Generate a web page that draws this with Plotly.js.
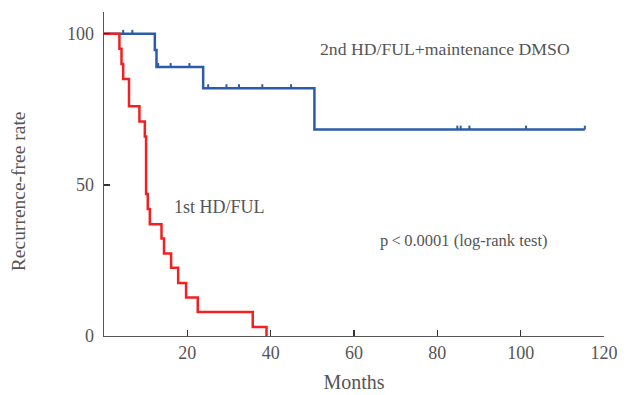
<!DOCTYPE html>
<html>
<head>
<meta charset="utf-8">
<script src="https://cdn.plot.ly/plotly-3.0.1.min.js"></script>
<style>html,body{margin:0;padding:0;background:#fff;}#chart{width:631px;height:395px;}</style>
</head>
<body>
<div id="chart"></div>
<script>
// Kaplan-Meier step data
const firstTimes  = [0, 3.7, 4.2, 4.6, 6.0, 8.5, 9.8, 10.1, 10.5, 11.0, 13.8, 14.4, 16.1, 17.8, 19.7, 22.5, 35.7, 39.0];
const firstValues = [100, 95, 90, 85, 76, 71, 66, 47, 42, 37, 32.3, 27.3, 22.6, 17.5, 12.7, 7.9, 3, 0];

const secondTimes  = [0, 12.2, 12.6, 23.8, 50.5, 115.4];
const secondValues = [100, 94.6, 89, 82, 68.3, 68.3];

const secondCensorTimes  = [4.6, 6.8, 13.0, 16.0, 20.5, 25.0, 29.4, 32.4, 38.0, 44.9, 84.8, 85.6, 87.7, 101.3, 115.4];
const secondCensorValues = [100, 100, 89, 89, 89, 82, 82, 82, 82, 82, 68.3, 68.3, 68.3, 68.3, 68.3];

const xTicks = [20, 40, 60, 80, 100, 120];
const yTicks = [0, 50, 100];

const labelFirst  = "1st HD/FUL";
const labelSecond = "2nd HD/FUL+maintenance DMSO";
const labelP      = "p\u2009<\u20090.0001 (log-rank test)";
const xTitle = "Months";
const yTitle = "Recurrence-free rate";

const BLUE = "#2c5ca9";
const RED  = "#f22020";
const GREY = "#555555";
const FONT = "Liberation Serif, DejaVu Serif, serif";

const traces = [
  {x: secondTimes, y: secondValues, type: "scatter", mode: "lines",
   line: {shape: "hv", color: BLUE, width: 2.5}, hoverinfo: "skip", showlegend: false},
  {x: secondCensorTimes, y: secondCensorValues, type: "scatter", mode: "markers",
   marker: {size: 0.1, color: BLUE, opacity: 0},
   error_y: {type: "data", symmetric: false, array: secondCensorValues.map(() => 1.3),
             arrayminus: secondCensorValues.map(() => 0), width: 0, thickness: 2, color: BLUE},
   hoverinfo: "skip", showlegend: false},
  {x: firstTimes, y: firstValues, type: "scatter", mode: "lines",
   line: {shape: "hv", color: RED, width: 2.5}, hoverinfo: "skip", showlegend: false}
];

const layout = {
  width: 631, height: 395,
  margin: {l: 104, r: 27, t: 12, b: 59},
  paper_bgcolor: "#fff", plot_bgcolor: "#fff",
  font: {family: FONT, color: GREY, size: 18},
  showlegend: false,
  xaxis: {
    range: [0, 120], tickvals: xTicks, ticktext: xTicks.map(String),
    ticks: "inside", ticklen: 6, tickwidth: 1.3, tickcolor: "#333",
    showline: true, linecolor: "#555", linewidth: 1.3,
    showgrid: false, zeroline: false, fixedrange: true,
    tickfont: {family: FONT, size: 18, color: GREY},
    title: {text: xTitle, font: {family: FONT, size: 20, color: GREY}, standoff: 13}
  },
  yaxis: {
    range: [0, 107.2], tickvals: yTicks, ticktext: yTicks.map(String),
    ticks: "inside", ticklen: 6, tickwidth: 1.3, tickcolor: "#333",
    showline: true, linecolor: "#555", linewidth: 1.3,
    showgrid: false, zeroline: false, fixedrange: true,
    ticklabelstandoff: 5,
    tickfont: {family: FONT, size: 18, color: GREY}
  },
  annotations: [
    {x: -0.172, y: 0.447, xref: "paper", yref: "paper", text: yTitle, showarrow: false,
     textangle: -90, xanchor: "center", yanchor: "middle", font: {family: FONT, size: 19.5, color: GREY}},
    {x: 51.4, y: 94.9, xref: "x", yref: "y", text: labelSecond, showarrow: false,
     xanchor: "left", yanchor: "middle", font: {family: FONT, size: 17.7, color: GREY}},
    {x: 16.2, y: 42.7, xref: "x", yref: "y", text: labelFirst, showarrow: false,
     xanchor: "left", yanchor: "middle", font: {family: FONT, size: 18, color: GREY}},
    {x: 65.8, y: 31.7, xref: "x", yref: "y", text: labelP, showarrow: false,
     xanchor: "left", yanchor: "middle", font: {family: FONT, size: 16.5, color: GREY}}
  ]
};

Plotly.newPlot("chart", traces, layout, {staticPlot: true, displayModeBar: false});
</script>
</body>
</html>
